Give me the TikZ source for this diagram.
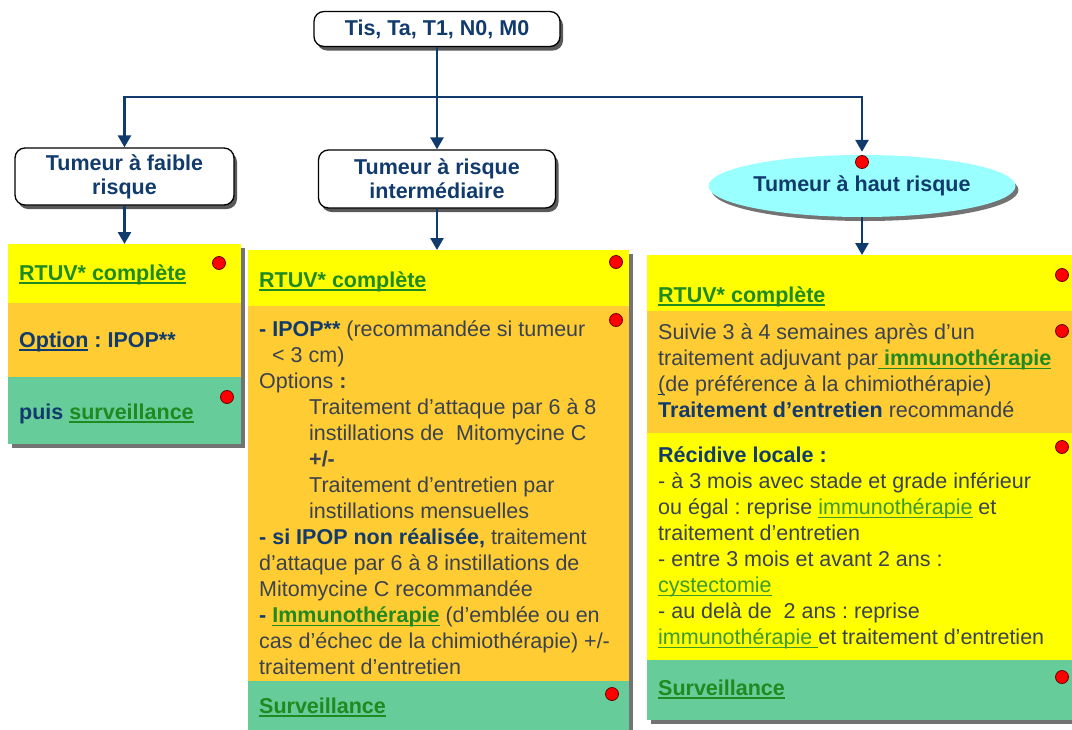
\documentclass[tikz,border=0pt]{standalone}
\usepackage{fontspec}
\setmainfont{Liberation Sans}
\usetikzlibrary{shapes.geometric,shadows,arrows.meta}
\frenchspacing

\definecolor{navy}{HTML}{123B6D}
\definecolor{bodytxt}{HTML}{3A4250}
\definecolor{linkgreen}{HTML}{1F8A1F}
\definecolor{softgreen}{HTML}{3D9A2A}
\definecolor{bandyellow}{HTML}{FFFF00}
\definecolor{bandorange}{HTML}{FFCC33}
\definecolor{bandgreen}{HTML}{66CC99}
\definecolor{skycyan}{HTML}{99FFFF}
\definecolor{dotred}{HTML}{FF0000}

% underline drawn just below the baseline
\newcommand{\ulin}[1]{\setbox0\hbox{#1}\rlap{\rule[-3.2pt]{\wd0}{1.3pt}}\box0\relax}
% bold green underlined link, plain green link, bold navy heading
\newcommand{\lnk}[1]{\textcolor{linkgreen}{\textbf{\ulin{#1}}}}
\newcommand{\softlnk}[1]{\textcolor{softgreen}{\ulin{#1}}}
\newcommand{\hd}[1]{\textcolor{navy}{\textbf{#1}}}

\begin{document}
\begin{tikzpicture}[x=1pt,y=-1pt,
  flowbox/.style={draw=black, line width=1.3pt, rounded corners=10pt, fill=white,
    align=center, text=navy, font=\bfseries\fontsize{21.5}{24}\selectfont,
    drop shadow={shadow xshift=3pt,shadow yshift=-4pt,fill=black!65,opacity=1}},
  riskoval/.style={ellipse, fill=skycyan, inner sep=0, text=navy,
    font=\bfseries\fontsize{21.5}{24}\selectfont,
    drop shadow={shadow xshift=3pt,shadow yshift=-4pt,fill=black!55,opacity=1}},
  colback/.style={inner sep=0, anchor=north west, fill=white,
    drop shadow={shadow xshift=4pt,shadow yshift=-4pt,fill=black!55,opacity=1}},
  band/.style={inner sep=0, anchor=north west},
  dot/.style={circle, fill=dotred, draw=black!60!red, line width=0.8pt,
    minimum size=13pt, inner sep=0},
  txt/.style={inner sep=0, font=\fontsize{21.5}{26}\selectfont, text=bodytxt, align=left},
  flow/.style={draw=navy, line width=2.6pt},
  arr/.style={flow, -{Triangle[width=13pt,length=12pt]}}
]
\useasboundingbox (0,0) rectangle (1072,729);

% ---- decision nodes ----
\node[flowbox, minimum width=246, minimum height=35] (top) at (437,29) {Tis, Ta, T1, N0, M0};
\node[flowbox, minimum width=219, minimum height=57] (low) at (124.5,176.5) {Tumeur à faible\\risque};
\node[flowbox, minimum width=237, minimum height=58] (mid) at (437,179) {Tumeur à risque\\intermédiaire};
\node[riskoval, minimum width=236, minimum height=62] (high) at (862,186) {Tumeur à haut risque};

% ---- column backgrounds (carry the shadow) ----
\node[colback, minimum width=233, minimum height=200] (colL) at (8,244) {};
\node[colback, minimum width=381, minimum height=485] (colM) at (248,250) {};
\node[colback, minimum width=430, minimum height=465] (colR) at (647,255) {};

% ---- low risk column ----
\node[band, fill=bandyellow, minimum width=233, minimum height=59] (L1) at (8,244) {};
\node[band, fill=bandorange, minimum width=233, minimum height=74] (L2) at (8,303) {};
\node[band, fill=bandgreen,  minimum width=233, minimum height=67] (L3) at (8,377) {};
\node[txt, anchor=base west] (tL1) at (19,280.5) {\lnk{RTUV* complète}};
\node[txt, anchor=base west] (tL2) at (19,347.5) {\hd{\ulin{Option} : IPOP**}};
\node[txt, anchor=base west] (tL3) at (19,419.5) {\hd{puis} \lnk{surveillance}};

% ---- intermediate risk column ----
\node[band, fill=bandyellow, minimum width=381, minimum height=56]  (M1) at (248,250) {};
\node[band, fill=bandorange, minimum width=381, minimum height=375] (M2) at (248,306) {};
\node[band, fill=bandgreen,  minimum width=381, minimum height=54]  (M3) at (248,681) {};
\node[txt, anchor=base west] (tM1) at (259,287.5) {\lnk{RTUV* complète}};
\node[txt, anchor=north west] (tM2) at (259,318.3) {%
  \strut\hd{- IPOP**} (recommandée si tumeur\\
  \hspace*{13pt}< 3 cm)\\
  Options \textbf{:}\\
  \hspace*{50pt}Traitement d’attaque par 6 à 8\\
  \hspace*{50pt}instillations de\ \ Mitomycine C\\
  \hspace*{50pt}\textbf{+/-}\\
  \hspace*{50pt}Traitement d’entretien par\\
  \hspace*{50pt}instillations mensuelles\\
  \hd{- si IPOP non réalisée,} traitement\\
  d’attaque par 6 à 8 instillations de\\
  Mitomycine C recommandée\\
  \hd{-} \lnk{Immunothérapie} (d’emblée ou en\\
  cas d’échec de la chimiothérapie) +/-\\
  traitement d’entretien};
\node[txt, anchor=base west] (tM3) at (259,713.5) {\lnk{Surveillance}};

% ---- high risk column ----
\node[band, fill=bandyellow, minimum width=430, minimum height=56]  (R1) at (647,255) {};
\node[band, fill=bandorange, minimum width=430, minimum height=122] (R2) at (647,311) {};
\node[band, fill=bandyellow, minimum width=430, minimum height=227] (R3) at (647,433) {};
\node[band, fill=bandgreen,  minimum width=430, minimum height=60]  (R4) at (647,660) {};
\node[txt, anchor=base west] (tR1) at (658,302.5) {\lnk{RTUV* complète}};
\node[txt, anchor=north west] (tR2) at (658,321.3) {%
  \strut Suivie 3 à 4 semaines après d’un\\
  traitement adjuvant par\textcolor{linkgreen}{\ulin{ \textbf{immunothérapie}}}\\
  \textcolor{navy}{\ulin{\textcolor{bodytxt}{(}}}de préférence à la chimiothérapie)\\
  \hd{Traitement d’entretien} recommandé};
\node[txt, anchor=north west] (tR3) at (658,444.3) {%
  \strut\hd{Récidive locale :}\\
  - à 3 mois avec stade et grade inférieur\\
  ou égal : reprise \softlnk{immunothérapie} et\\
  traitement d’entretien\\
  - entre 3 mois et avant 2 ans :\\
  \softlnk{cystectomie}\\
  - au delà de\ \ 2 ans : reprise\\
  \softlnk{immunothérapie }et traitement d’entretien};
\node[txt, anchor=base west] (tR4) at (658,695.5) {\lnk{Surveillance}};

% ---- red markers ----
\node[dot] (dL1) at (219,263) {};
\node[dot] (dL2) at (227,397) {};
\node[dot] (dM1) at (616,262) {};
\node[dot] (dM2) at (616,320) {};
\node[dot] (dM3) at (612,694) {};
\node[dot] (dR1) at (1062,275) {};
\node[dot] (dR2) at (1062,331) {};
\node[dot] (dR3) at (1062,447) {};
\node[dot] (dR4) at (1062,677) {};
\node[dot] (dH)  at (862,162) {};

% ---- connectors ----
\coordinate (j) at (437,97);
\draw[flow] (top.south) -- (j);
\draw[arr] (j) -| (low.north);
\draw[arr] (j) -- (mid.north);
\draw[arr, shorten >=3pt] (j) -| (high.north);
\draw[arr] (low.south) -- (low.south |- colL.north);
\draw[arr] (mid.south) -- (mid.south |- colM.north);
\draw[arr] (high.south) -- (high.south |- colR.north);
\end{tikzpicture}
\end{document}
